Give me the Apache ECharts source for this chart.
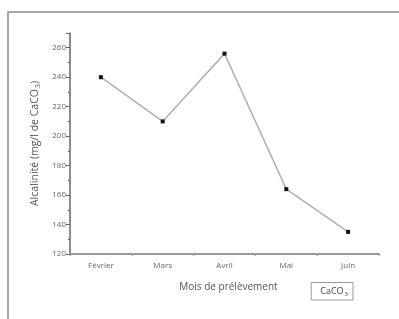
<!DOCTYPE html>
<html>
<head>
<meta charset="utf-8">
<script src="https://cdn.jsdelivr.net/npm/echarts@6/dist/echarts.min.js"></script>
<style>
  html, body { margin: 0; padding: 0; background: #fff; }
  #chart { width: 399px; height: 319px; }
</style>
</head>
<body>
<div id="chart"></div>
<script>
const months = ['Février', 'Mars', 'Avril', 'Mai', 'Juin'];
const alcalinite = [240, 210, 256, 164, 135];
const seriesName = 'CaCO3';

const chart = echarts.init(document.getElementById('chart'));
const font = 'Open Sans, Liberation Sans, sans-serif';

const option = {
  backgroundColor: '#fff',
  animation: false,
  textStyle: { fontFamily: font },
  graphic: [{
    // outer frame, only top and left edges visible
    type: 'rect',
    shape: { x: 8, y: 12, width: 500, height: 400 },
    style: { fill: 'none', stroke: '#8a8a8a', lineWidth: 1.5 }
  }],
  grid: { left: 70, right: 20, top: 33, bottom: 65 },
  legend: {
    data: [seriesName],
    right: 46, bottom: 19,
    icon: 'none',
    itemWidth: 0, itemHeight: 0, itemGap: 0,
    padding: [4, 5, 3, 4],
    borderColor: '#999', borderWidth: 1,
    formatter: () => '{a|CaCO}{b|3}',
    textStyle: {
      color: '#444',
      rich: {
        a: { fontSize: 9, color: '#444', fontFamily: font },
        b: { fontSize: 6, color: '#444', fontFamily: font, padding: [6, 0, 0, 1] }
      }
    }
  },
  xAxis: [{
    type: 'category',
    data: months,
    boundaryGap: true,
    name: 'Mois de prélèvement',
    nameLocation: 'middle',
    nameGap: 28,
    nameTextStyle: { fontSize: 10, color: '#555', padding: [0, 0, 0, 8] },
    axisLine: { lineStyle: { color: '#999', width: 2 } },
    axisTick: { alignWithLabel: true, length: 3, lineStyle: { color: '#999' } },
    axisLabel: { fontSize: 8, color: '#666', margin: 8 },
    splitLine: { show: false }
  }, {
    type: 'category',
    data: months,
    position: 'bottom',
    boundaryGap: true,
    axisLine: { show: false },
    axisTick: { show: true, inside: false, length: 2, lineStyle: { color: '#999' } },
    axisLabel: { show: false },
    splitLine: { show: false }
  }],
  yAxis: {
    type: 'value',
    min: 120,
    max: 270,
    interval: 20,
    name: '{a|Alcalinité (mg/l de CaCO}{b|3}{a|)}',
    nameLocation: 'middle',
    nameGap: 23,
    nameRotate: 90,
    nameTextStyle: {
      color: '#555',
      rich: {
        a: { fontSize: 10.5, color: '#555', fontFamily: font },
        b: { fontSize: 7, color: '#555', fontFamily: font, padding: [6, 0, 0, 1] }
      }
    },
    axisLine: { show: true, lineStyle: { color: '#666', width: 1.5 } },
    axisTick: { show: true, length: 4, lineStyle: { color: '#666' } },
    minorTick: { show: true, splitNumber: 2, length: 2, lineStyle: { color: '#666' } },
    axisLabel: { fontSize: 8, color: '#666', margin: 4, showMaxLabel: false },
    splitLine: { show: false }
  },
  series: [{
    name: seriesName,
    type: 'line',
    data: alcalinite,
    symbol: 'rect',
    symbolSize: 4,
    itemStyle: { color: '#111' },
    lineStyle: { color: '#b0b0b0', width: 1.5 }
  }]
};

chart.setOption(option);
</script>
</body>
</html>
